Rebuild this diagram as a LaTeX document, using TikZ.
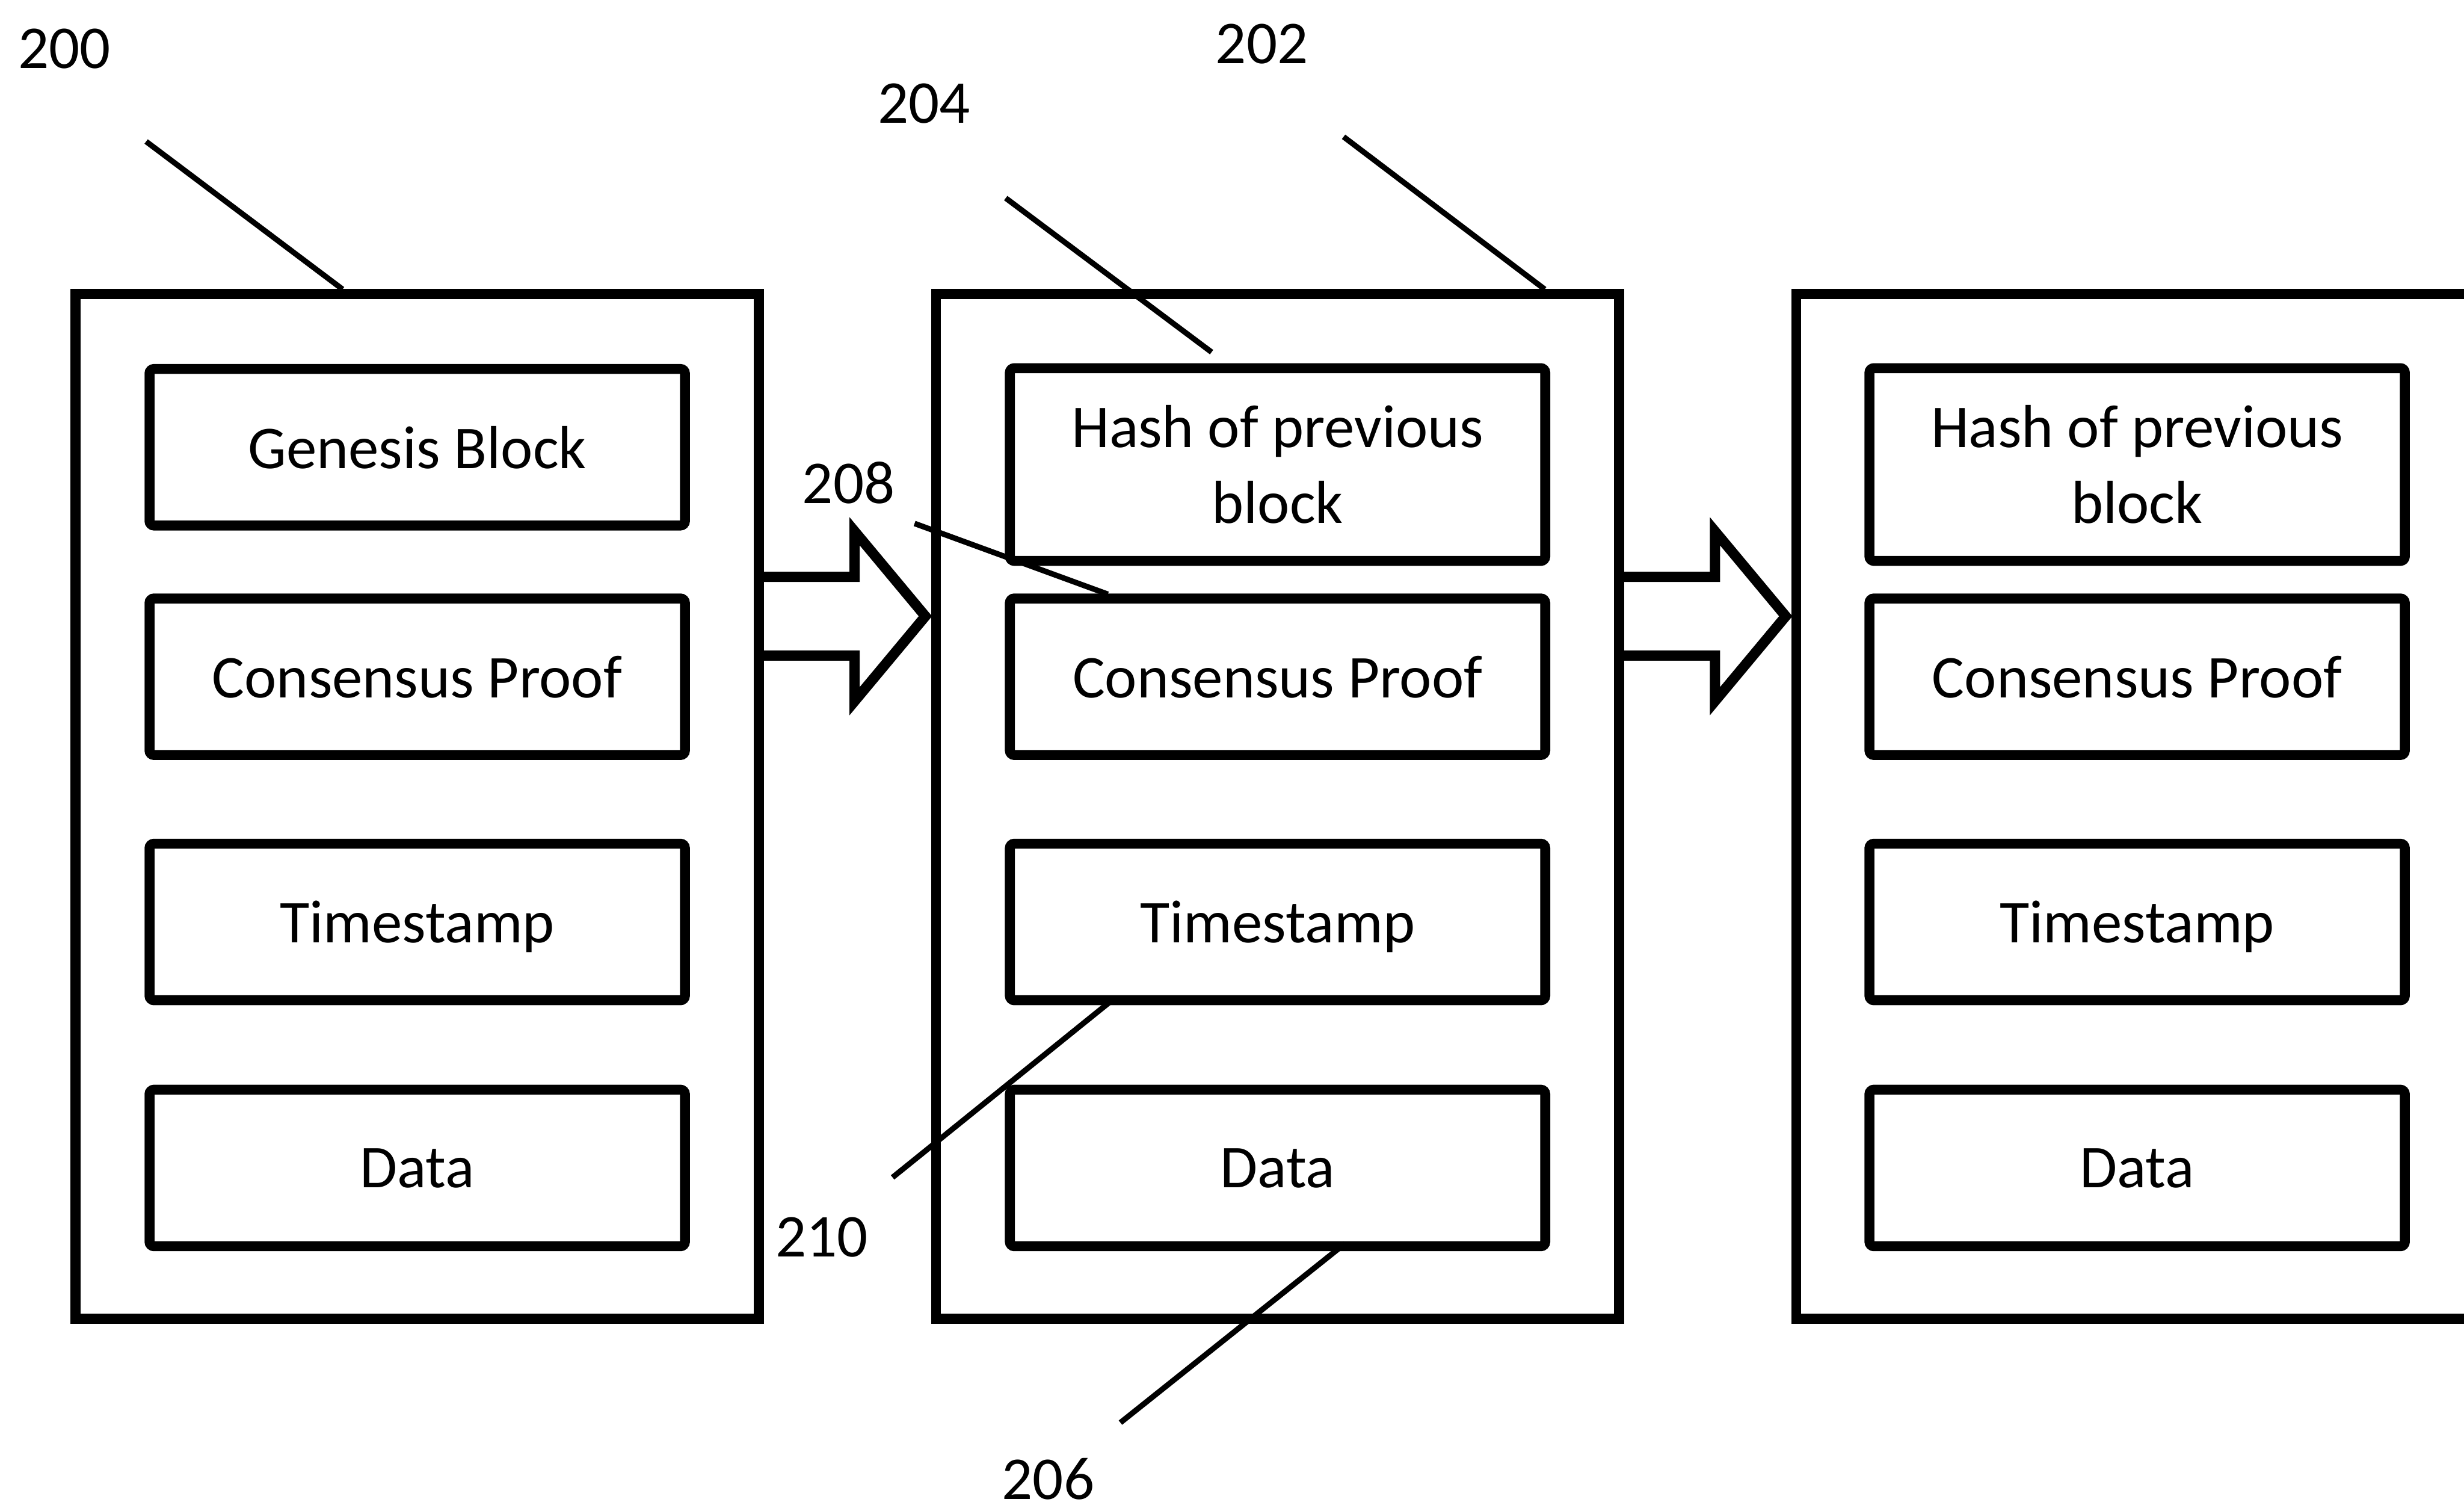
\documentclass[tikz,border=0pt]{standalone}
\usepackage{fontspec}
\setmainfont{Carlito}
\usetikzlibrary{calc}
\begin{document}
\begin{tikzpicture}[x=0.01cm,y=-0.01cm,
  blockbox/.style={draw, line width=1.8pt, minimum width=4.345cm, minimum height=6.515cm, inner sep=0pt, outer sep=0pt},
  field/.style={draw, line width=1.8pt, rounded corners=0.8pt, minimum width=3.405cm, minimum height=0.995cm, align=center, inner sep=0pt, outer sep=0pt, font=\fontsize{11}{13.7}\selectfont},
  flatfield/.style={field, text depth=0pt},
  tallfield/.style={field, minimum height=1.225cm},
  lbl/.style={inner sep=0pt, font=\fontsize{11}{13}\selectfont},
  leader/.style={line width=1pt},
  bigarrow/.style={line width=1.85pt, miter limit=10}
]
\useasboundingbox (0,0) rectangle (1568,959);
\clip (0,0) rectangle (1568,959);

% blocks
\node[blockbox] (b1) at (265.5,513) {};
\node[blockbox] (b2) at (813,513) {};
\node[blockbox] (b3) at (1360.5,513) {};

% block 1 fields
\node[flatfield] (g1) at (265.5,284.5) {Genesis Block};
\node[flatfield] (c1) at (265.5,430.5) {Consensus Proof};
\node[flatfield] (t1) at (265.5,586.5) {Timestamp};
\node[flatfield] (d1) at (265.5,743) {Data};

% block 2 fields
\node[tallfield] (h2) at (813,295.5) {Hash of previous\\block};
\node[flatfield] (c2) at (813,430.5) {Consensus Proof};
\node[flatfield] (t2) at (813,586.5) {Timestamp};
\node[flatfield] (d2) at (813,743) {Data};

% block 3 fields
\node[tallfield] (h3) at (1360,295.5) {Hash of previous\\block};
\node[flatfield] (c3) at (1360,430.5) {Consensus Proof};
\node[flatfield] (t3) at (1360,586.5) {Timestamp};
\node[flatfield] (d3) at (1360,743) {Data};

% big arrows
\draw[bigarrow] ($(b1.east)+(0,-146)$) -- ++(61,0) -- ++(0,-29) -- ++(45,54) -- ++(-45,54) -- ++(0,-29) -- ++(-61,0);
\draw[bigarrow] ($(b2.east)+(0,-146)$) -- ++(61,0) -- ++(0,-29) -- ++(45,54) -- ++(-45,54) -- ++(0,-29) -- ++(-61,0);

% reference labels
\node[lbl] (n200) at (41,31) {200};
\node[lbl] (n202) at (803,28) {202};
\node[lbl] (n204) at (588,66) {204};
\node[lbl] (n208) at (540,307) {208};
\node[lbl] (n210) at (523,787) {210};
\node[lbl] (n206) at (667,941) {206};

% leader lines
\coordinate (a200) at (93,90);   \coordinate (e200) at (218,184);
\coordinate (a202) at (855,87);  \coordinate (e202) at (983,184);
\coordinate (a204) at (640,126); \coordinate (e204) at (771,224);
\coordinate (a208) at (582,333); \coordinate (e208) at (705,378);
\coordinate (a210) at (568,749); \coordinate (e210) at (708,636);
\coordinate (a206) at (713,905); \coordinate (e206) at (856,791);
\draw[leader] (a200) -- (e200);
\draw[leader] (a202) -- (e202);
\draw[leader] (a204) -- (e204);
\draw[leader] (a208) -- (e208);
\draw[leader] (a210) -- (e210);
\draw[leader] (a206) -- (e206);
\end{tikzpicture}
\end{document}
